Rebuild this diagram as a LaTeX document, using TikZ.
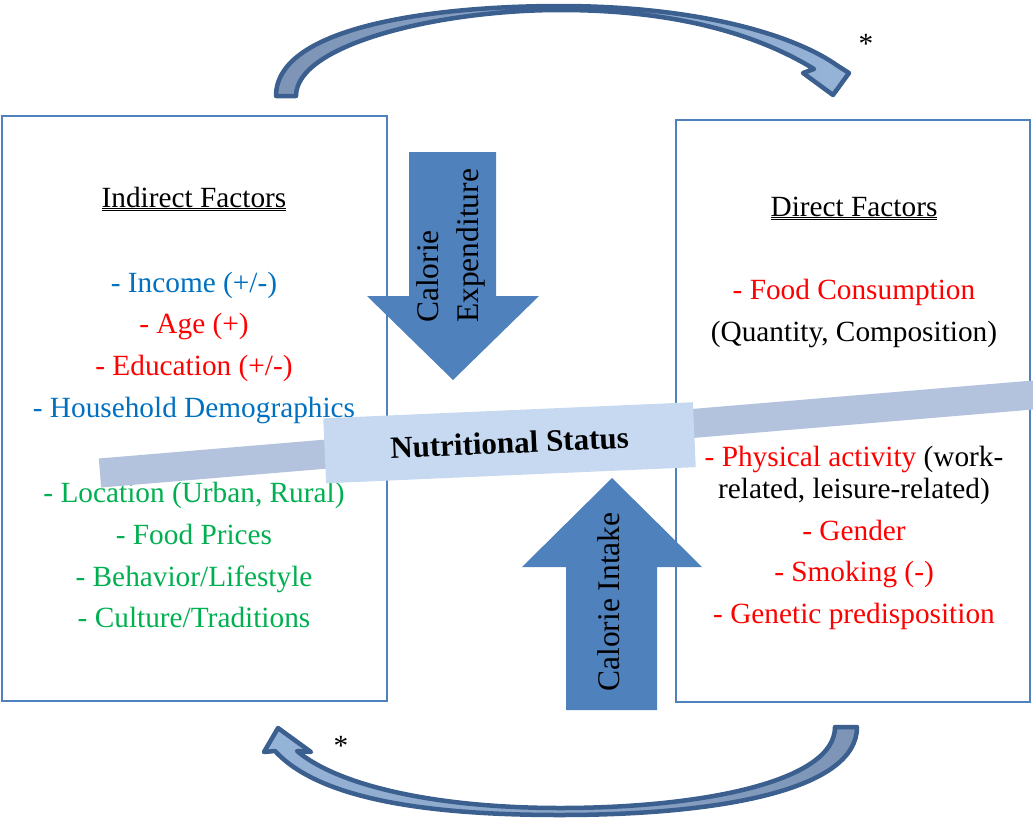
\documentclass[tikz,border=0pt]{standalone}
\usepackage{fontspec}
\setmainfont{Liberation Serif}
\usepackage{tikz}
\usetikzlibrary{positioning}
\definecolor{NSblue}{HTML}{4F81BD}
\definecolor{NSbar}{HTML}{B3C2DD}
\definecolor{NSpale}{HTML}{C6D9F1}
\definecolor{NSloop}{HTML}{3B5F8E}
\definecolor{NSloopdark}{HTML}{7D94B6}
\definecolor{NSlooplight}{HTML}{96B4D8}
\definecolor{NStxtblue}{HTML}{0070C0}
\definecolor{NStxtred}{HTML}{FF0000}
\definecolor{NStxtgreen}{HTML}{00B050}
\newcommand{\fsmain}{\fontsize{29.3}{35}\selectfont}
\newcommand{\fsarrow}{\fontsize{31.5}{40}\selectfont}
\newcommand{\fsstatus}{\fontsize{31}{37}\selectfont\bfseries}
\newcommand{\dblul}[1]{$\underline{\underline{\mbox{#1}}}$}

\begin{document}
\begin{tikzpicture}[x=1pt, y=-1pt,
  every node/.style={font=\fsmain, inner sep=0pt},
  factorbox/.style={draw=NSblue, line width=1.5pt},
  bigarrow/.style={fill=NSblue, draw=none},
  fline/.style={anchor=base},
  arrowtext/.style={rotate=90, font=\fsarrow},
  statusbox/.style={fill=NSpale, rotate=2.5, minimum width=370pt,
                    minimum height=65pt, font=\fsstatus},
  loopband/.style={draw=NSloop, line width=4.5pt, line join=round}]
\useasboundingbox (0,0) rectangle (1033,819);

% calorie expenditure, pointing down
\path[bigarrow] (409,152) -- (496,152) -- (496,296) -- (539,296)
  -- (453,380) -- (367,296) -- (409,296) -- cycle;

\node[factorbox, minimum width=385pt, minimum height=585pt] (indirect) at (194.5,408.5) {};
\node[factorbox, minimum width=354pt, minimum height=582pt] (direct) at (853,411) {};

% calorie intake, pointing up
\path[bigarrow] (566,710) -- (657,710) -- (657,567) -- (702,567)
  -- (612,478) -- (522,567) -- (566,567) -- cycle;

% indirect factors
\node[fline] (indtitle) at (194,207) {\dblul{Indirect Factors}};
\node[fline, NStxtblue]  (income) at (194,292)   {- Income (+/-)};
\node[fline, NStxtred]   (age)    at (194,333.8) {- Age (+)};
\node[fline, NStxtred]   (edu)    at (194,375.6) {- Education (+/-)};
\node[fline, NStxtblue]  (house)  at (194,417.4) {- Household Demographics};
\node[fline, NStxtgreen] (loc)    at (194,502.5) {- Location (Urban, Rural)};
\node[fline, NStxtgreen] (prices) at (194,544)   {- Food Prices};
\node[fline, NStxtgreen] (behav)  at (194,586)   {- Behavior/Lifestyle};
\node[fline, NStxtgreen] (cult)   at (194,627.7) {- Culture/Traditions};

% tilted bar behind the status
\path[fill=NSbar] (98.8,458.5) -- (1033,380.5) -- (1033,409.5) -- (101.2,487.5) -- cycle;
\node[statusbox] (status) at (509.5,442.75) {Nutritional Status};

\node[arrowtext, align=left] (expend) at (451,246) {Calorie\\Expenditure};
\node[arrowtext] (intake) at (609,602) {Calorie Intake};

% direct factors
\node[fline] (dirtitle) at (854,216) {\dblul{Direct Factors}};
\node[fline, NStxtred] (food)  at (854,299.3) {- Food Consumption};
\node[fline]           (quant) at (854,341.7) {(Quantity, Composition)};
\node[fline] (phys) at (854,466.7) {\textcolor{NStxtred}{- Physical activity} (work-};
\node[fline]           (rel)   at (854,498.3) {related, leisure-related)};
\node[fline, NStxtred] (gender) at (854,540)  {- Gender};
\node[fline, NStxtred] (smoke) at (854,581.7) {- Smoking (-)};
\node[fline, NStxtred] (genet) at (854,623.3) {- Genetic predisposition};

% feedback loops
\path[loopband, left color=NSloopdark, right color=NSlooplight]
  (276,96) .. controls (276,25) and (440,6) .. (560,6)
  .. controls (690,6) and (790,32) .. (838,66)
  -- (849,73) -- (833,95) -- (803,73) -- (814,69)
  .. controls (760,36) and (680,10) .. (560,10)
  .. controls (440,10) and (296,44) .. (296,96) -- cycle;
\path[loopband, left color=NSlooplight, right color=NSloopdark]
  (835,727) .. controls (835,782) and (700,808) .. (560,808)
  .. controls (440,808) and (340,787) .. (297,751)
  -- (311,752) -- (278,728) -- (264,752) -- (275,751)
  .. controls (320,800) and (430,815) .. (560,815)
  .. controls (720,815) and (857,790) .. (857,727) -- cycle;
\node (startop) at (866,43.5) {*};
\node (starbot) at (341,745.5) {*};
\end{tikzpicture}
\end{document}
